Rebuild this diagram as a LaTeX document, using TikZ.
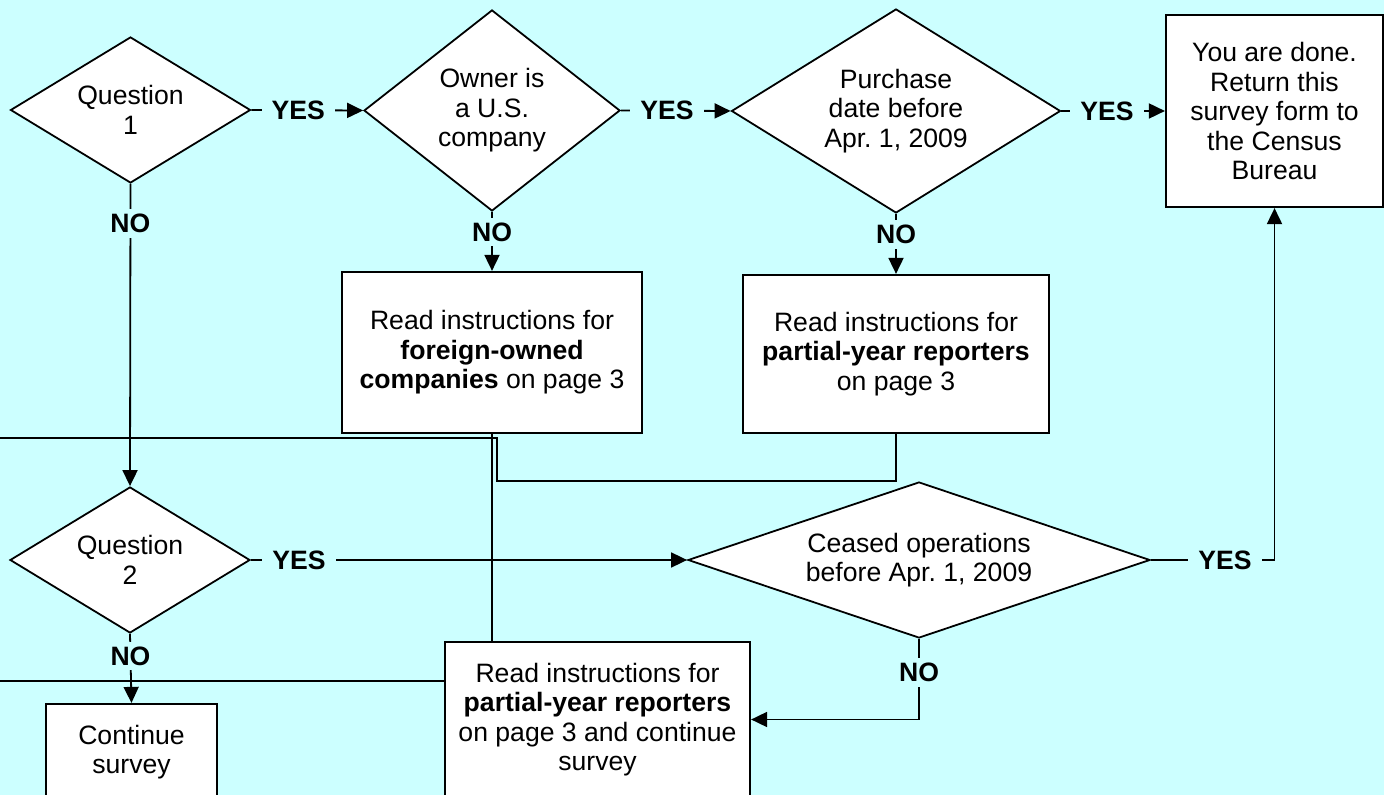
\documentclass[tikz,border=0pt]{standalone}
\usepackage{fontspec}
\setmainfont{Liberation Sans}
\usepackage{tikz}
\usetikzlibrary{arrows.meta}
\usetikzlibrary{shapes.geometric}
\tikzset{>={Triangle[length=8pt,width=7.5pt]}}
\usepackage{xcolor}
\definecolor{bgcol}{HTML}{CCFFFF}
\tikzstyle{decision}=[diamond,draw,fill=white,line width=0.9pt,inner sep=0pt,align=center]
\tikzstyle{action}=[rectangle,draw,fill=white,line width=1.1pt,inner sep=0pt,align=center]
\tikzstyle{answer}=[fill=bgcol,font=\bfseries,inner xsep=5pt,inner ysep=2.5pt]
\tikzstyle{flow}=[line width=0.9pt]

\begin{document}
\frenchspacing
\fontsize{13.3}{14.75}\selectfont
\begin{tikzpicture}[x=0.5pt,y=-0.5pt]
  \fill[bgcol] (0,0) rectangle (1384,795);
  \useasboundingbox (0,0) rectangle (1384,795);
  \clip (0,0) rectangle (1384,795);

  % top row
  \node[decision,minimum width=120pt,minimum height=73pt,aspect=1.64] (q1) at (130.5,110) {Question\\1};
  \node[decision,minimum width=128pt,minimum height=100.5pt,aspect=1.27] (owner) at (492,110.5) {Owner is\\a U.S.\\company};
  \node[decision,minimum width=164.5pt,minimum height=102pt,aspect=1.61] (purchase) at (896,111) {Purchase\\date before\\Apr. 1, 2009};
  \node[action,minimum width=108.5pt,minimum height=96pt] (done) at (1274.5,111) {You are done.\\Return this\\survey form to\\the Census\\Bureau};

  \node[action,minimum width=150pt,minimum height=80.5pt] (foreign) at (492,352.5) {Read instructions for\\\textbf{foreign-owned}\\\textbf{companies} on page 3};
  \node[action,minimum width=153pt,minimum height=79pt] (partial) at (896,354) {Read instructions for\\\textbf{partial-year reporters}\\on page 3};

  % bottom row
  \node[decision,minimum width=120pt,minimum height=73pt,aspect=1.64] (q2) at (130,560) {Question\\2};
  \node[decision,minimum width=231pt,minimum height=78pt,aspect=2.96] (ceased) at (919,560) {Ceased operations\\before Apr. 1, 2009};
  \node[action,minimum width=85.5pt,minimum height=48pt] (cont) at (131.5,752) {Continue\\survey};
  \node[action,minimum width=152.5pt,minimum height=77.5pt] (final) at (597.5,719.5) {Read instructions for\\\textbf{partial-year reporters}\\on page 3 and continue\\survey};

  \coordinate (edgea) at (0,438);
  \coordinate (edgeb) at (0,681);
  \coordinate (bend) at (497,481);

  \draw[flow,->] (q1.east) -- node[answer,pos=0.42]{YES} (owner.west);
  \draw[flow,->] (owner.east) -- node[answer,pos=0.42]{YES} (purchase.west);
  \draw[flow,->] (purchase.east) -- node[answer,pos=0.44]{YES} (done.west);
  \draw[flow,->] (q1.south) -- node[answer,pos=0.13]{NO} (q2.north);
  \draw[flow,->] (owner.south) -- node[answer,pos=0.34]{NO} (foreign.north);
  \draw[flow,->] (purchase.south) -- node[answer,pos=0.34]{NO} (partial.north);
  \draw[flow,->] (q2.east) -- node[answer,pos=0.11]{YES} (ceased.west);
  \draw[flow,->] (ceased.east) -| node[answer,pos=0.3]{YES} (done.south);
  \draw[flow,->] (ceased.south) |- node[answer,pos=0.21]{NO} (final.east);
  \draw[flow,->] (q2.south) -- node[answer,pos=0.32]{NO} (cont.north);

  \draw[flow] (edgea) -| (bend) -| (partial.south);
  \draw[flow] (foreign.south) -- (foreign.south |- final.north);
  \draw[flow] (edgeb) -- (edgeb -| final.west);
\end{tikzpicture}
\end{document}
